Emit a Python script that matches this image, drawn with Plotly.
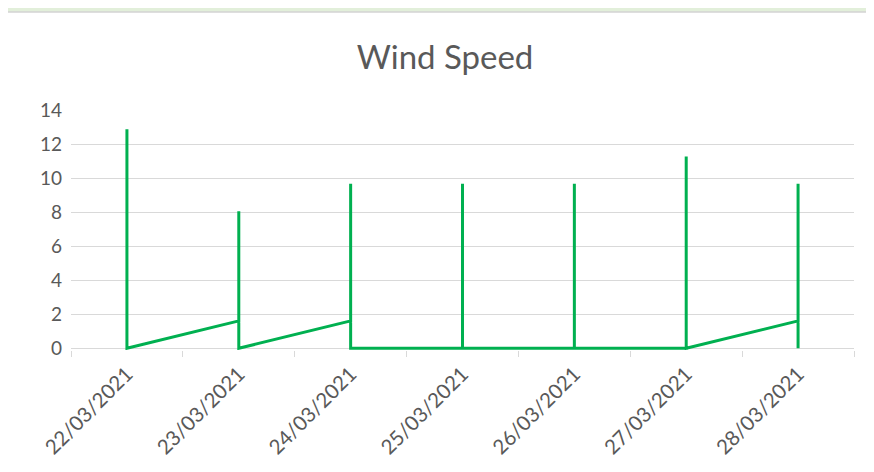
import plotly.graph_objects as go

# Dates (category labels) and readings per day, in order
days = ["22/03/2021", "23/03/2021", "24/03/2021", "25/03/2021",
        "26/03/2021", "27/03/2021", "28/03/2021"]

speed_22 = [0, 3.22, 6.44, 11.27, 12.87, 11.27, 4.83, 0]
speed_23 = [1.61, 4.83, 8.05, 6.44, 3.22, 1.61, 0]
speed_24 = [1.61, 4.83, 9.66, 8.05, 6.44, 3.22, 0]
speed_25 = [0, 3.22, 8.05, 9.66, 6.44, 3.22, 0]
speed_26 = [0, 4.83, 9.66, 6.44, 1.61, 0]
speed_27 = [0, 6.44, 11.27, 8.05, 3.22, 0]
speed_28 = [1.61, 4.83, 8.05, 9.66, 8.05, 3.22, 0]

per_day = [speed_22, speed_23, speed_24, speed_25, speed_26, speed_27, speed_28]

x_vals, y_vals = [], []
for d, vals in zip(days, per_day):
    x_vals += [d] * len(vals)
    y_vals += vals

y_ticks = [0, 2, 4, 6, 8, 10, 12, 14]

grey_txt = "#595959"
grid = "#d9d9d9"
FONT = "Lato, 'Open Sans', sans-serif"

fig = go.Figure()
fig.add_trace(go.Scatter(
    x=x_vals, y=y_vals, mode="lines",
    line=dict(color="#00b050", width=3),
    hoverinfo="skip", showlegend=False,
))

# page body has an 8px margin, so the figure is drawn 8px in from the window edge
OFF = 8
W, H = 874 - OFF, 472 - OFF
Y_LO = -0.1
L, R, T = 71 - OFF, 20, 110 - OFF
B = H - ((348 - OFF) + (-Y_LO) * 17)
pw, ph = W - L - R, H - T - B

def px_x(p):
    return (p - OFF - L) / pw

def px_y(p):
    return (H - B - (p - OFF)) / ph

fig.add_shape(type="rect", xref="paper", yref="paper", layer="below",
              x0=px_x(5), x1=px_x(900), y0=px_y(520), y1=px_y(12),
              fillcolor="white", line=dict(color="#d4d4d4", width=1.5))

fig.update_layout(
    width=W, height=H,
    margin=dict(l=L, r=R, t=T, b=B),
    paper_bgcolor="#e2efda",
    plot_bgcolor="white",
    font=dict(family=FONT, color=grey_txt),
    title=dict(text="Wind Speed", x=(445 - OFF) / W, xanchor="center", xref="container",
               y=1 - (57 - OFF) / H, yanchor="middle", yref="container",
               font=dict(family=FONT, size=33, color=grey_txt)),
)

fig.update_xaxes(
    type="category", categoryorder="array", categoryarray=days,
    range=[-0.5, len(days) - 0.5],
    tickson="boundaries", ticks="outside", ticklen=6, tickcolor=grid,
    tickangle=-45, tickfont=dict(family=FONT, size=20.5, color=grey_txt),
    ticklabelstandoff=7,
    showline=False, showgrid=False, zeroline=False,
)
fig.update_yaxes(
    range=[Y_LO, 14], tickvals=y_ticks,
    tickfont=dict(family=FONT, size=19, color=grey_txt),
    showgrid=True, gridcolor=grid, gridwidth=1.2,
    zeroline=True, zerolinecolor=grid, zerolinewidth=1.2,
    showline=False, ticks="", ticklabelstandoff=8,
)

fig.write_html("out.html")
